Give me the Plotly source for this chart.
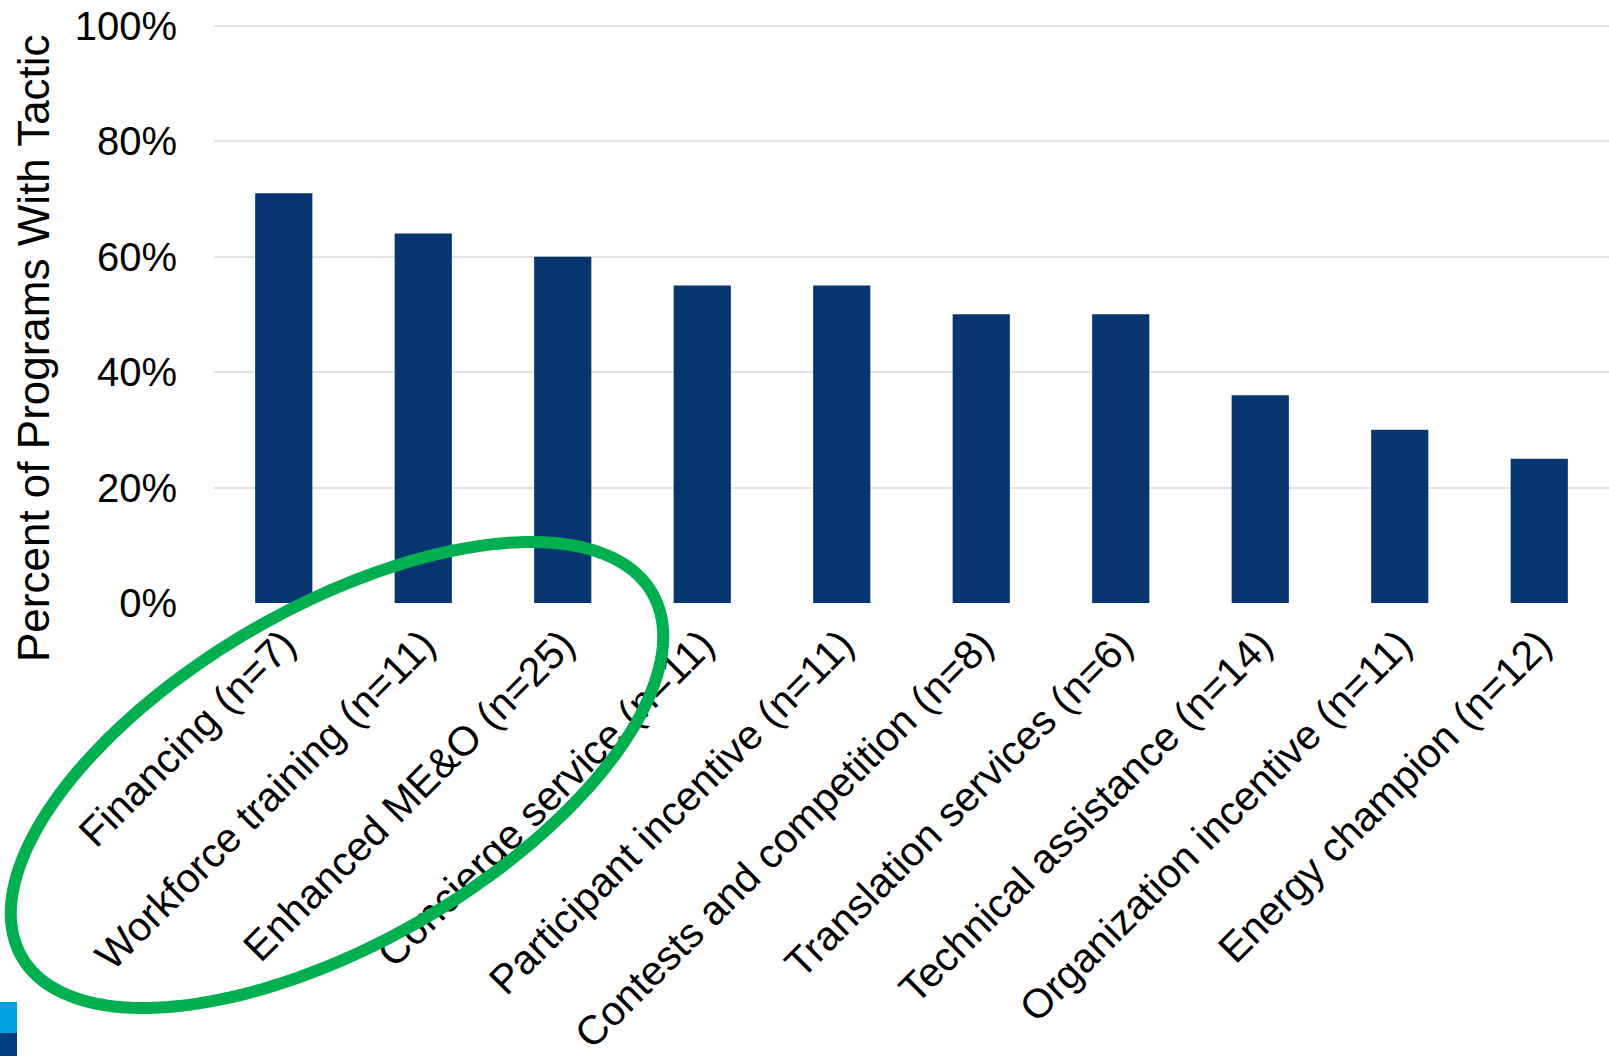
import numpy as np
import plotly.graph_objects as go

# ---- data ----
categories = [
    "Financing", "Workforce training", "Enhanced ME&O", "Concierge service",
    "Participant incentive", "Contests and competition", "Translation services",
    "Technical assistance", "Organization incentive", "Energy champion",
]
sample_sizes = [7, 11, 25, 11, 11, 8, 6, 14, 11, 12]
percent_with_tactic = [0.71, 0.64, 0.60, 0.55, 0.55, 0.50, 0.50, 0.36, 0.30, 0.25]
y_tick_values = [0, 0.2, 0.4, 0.6, 0.8, 1.0]
y_tick_labels = ["0%", "20%", "40%", "60%", "80%", "100%"]
y_title = "Percent of Programs With Tactic"

x_labels = [f"{c} (n={n})" for c, n in zip(categories, sample_sizes)]

# ---- layout geometry (pixels) ----
W, H = 1609, 1056
ML, MR, MT, MB = 214, 0, 24, 453
PW, PH = W - ML - MR, H - MT - MB

def fx(px):
    return (px - ML) / PW

def fy(py):
    return (H - MB - py) / PH

FONT = "Liberation Sans, Arial, sans-serif"
BAR_COLOR = "#06356F"
GREEN = "#00B050"

fig = go.Figure(
    go.Bar(
        x=x_labels,
        y=percent_with_tactic,
        marker=dict(color=BAR_COLOR, line=dict(width=0)),
        hoverinfo="skip",
    )
)

# Highlight ellipse (decoration, pixel geometry)
ell_cx, ell_cy, ell_a, ell_b, ell_rot = 337, 775, 364, 168, np.deg2rad(-30)
t = np.linspace(0, 2 * np.pi, 181)
ex = ell_cx + ell_a * np.cos(t) * np.cos(ell_rot) - ell_b * np.sin(t) * np.sin(ell_rot)
ey = ell_cy + ell_a * np.cos(t) * np.sin(ell_rot) + ell_b * np.sin(t) * np.cos(ell_rot)
path = "M " + " L ".join(f"{fx(x):.5f},{fy(y):.5f}" for x, y in zip(ex, ey)) + " Z"

shapes = [
    dict(type="path", xref="paper", yref="paper", path=path,
         line=dict(color=GREEN, width=12), fillcolor="rgba(0,0,0,0)", layer="above"),
    # slide corner decoration
    dict(type="rect", xref="paper", yref="paper", x0=fx(0), x1=fx(17), y0=fy(1033), y1=fy(1002),
         fillcolor="#009FE3", line=dict(width=0), layer="above"),
    dict(type="rect", xref="paper", yref="paper", x0=fx(0), x1=fx(17), y0=fy(1056), y1=fy(1033),
         fillcolor="#003E7E", line=dict(width=0), layer="above"),
]

fig.update_layout(
    template="none",
    width=W, height=H,
    margin=dict(l=ML, r=MR, t=MT, b=MB, autoexpand=False),
    paper_bgcolor="white", plot_bgcolor="white",
    bargap=0.59,
    showlegend=False,
    font=dict(family=FONT, color="black"),
    shapes=shapes,
    annotations=[
        dict(text=y_title, xref="paper", yref="paper", x=fx(33), y=fy(348),
             xanchor="center", yanchor="middle", textangle=-90, showarrow=False,
             font=dict(size=44, family=FONT, color="black")),
    ],
)

fig.update_xaxes(
    automargin=False,
    tickangle=-45,
    tickfont=dict(size=41, family=FONT, color="black"),
    showgrid=False, showline=False, zeroline=False, ticks="",
    ticklabelstandoff=8,
)
fig.update_yaxes(
    automargin=False,
    range=[0, 1.003],
    tickvals=y_tick_values, ticktext=y_tick_labels,
    tickfont=dict(size=40, family=FONT, color="black"),
    showgrid=True, gridcolor="#E2E2E2", gridwidth=2,
    zeroline=False, showline=False, ticks="",
    ticklabelstandoff=36,
)

fig.write_html("out.html")
